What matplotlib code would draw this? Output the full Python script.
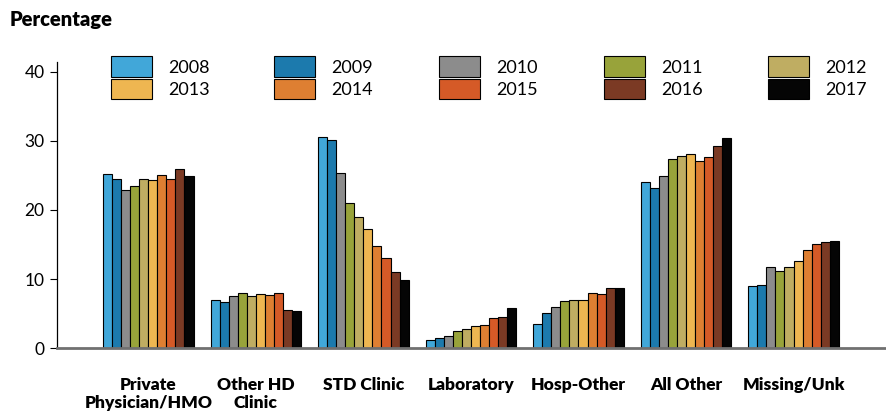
import matplotlib

matplotlib.use("Agg")
import matplotlib.pyplot as plt
import matplotlib.patches as mpatches
import numpy as np

plt.rcParams["font.family"] = ["Lato", "DejaVu Sans"]

categories = ["Private\nPhysician/HMO", "Other HD\nClinic", "STD Clinic", "Laboratory",
              "Hosp-Other", "All Other", "Missing/Unk"]
years = ["2008", "2009", "2010", "2011", "2012", "2013", "2014", "2015", "2016", "2017"]
colors = ["#41a7d9", "#1c7aad", "#8c8c8c", "#98a33a", "#bfad62",
          "#eeb651", "#de7f32", "#d55a27", "#7b3a24", "#050505"]

# percentage by year, one list per year, in category order
v2008 = [25.2, 6.9, 30.5, 1.2, 3.5, 24.0, 9.0]
v2009 = [24.5, 6.7, 30.1, 1.5, 5.1, 23.2, 9.1]
v2010 = [22.9, 7.5, 25.4, 1.8, 6.0, 24.9, 11.7]
v2011 = [23.5, 8.0, 21.0, 2.5, 6.8, 27.4, 11.1]
v2012 = [24.5, 7.5, 18.9, 2.8, 6.9, 27.8, 11.7]
v2013 = [24.3, 7.8, 17.2, 3.2, 6.9, 28.1, 12.6]
v2014 = [25.0, 7.7, 14.8, 3.4, 8.0, 27.1, 14.2]
v2015 = [24.4, 8.0, 13.0, 4.3, 7.8, 27.7, 15.0]
v2016 = [25.9, 5.5, 11.0, 4.5, 8.7, 29.2, 15.3]
v2017 = [24.9, 5.4, 9.8, 5.8, 8.7, 30.4, 15.5]
series = [v2008, v2009, v2010, v2011, v2012, v2013, v2014, v2015, v2016, v2017]

fig = plt.figure(figsize=(8.86, 4.13), dpi=100)
ax = fig.add_axes([0.0643, 0.157, 0.9357, 0.693])

x = np.arange(len(categories))
bw = 0.084
handles = []
for i, (yr, vals) in enumerate(zip(years, series)):
    off = (i - 4.5) * bw
    ax.bar(x + off, vals, width=bw, color=colors[i], edgecolor="black",
           linewidth=0.8, label=yr, zorder=2)
    handles.append(mpatches.Patch(facecolor=colors[i], edgecolor="black", linewidth=0.8, label=yr))

ax.set_xlim(-0.85, 6.86)
ax.set_ylim(0, 41.4)
ax.set_yticks([0, 10, 20, 30, 40])
ax.tick_params(axis="y", labelsize=12.5, direction="out", length=5, width=0.8, pad=4)
ax.set_xticks(x)
ax.set_xticklabels(categories, fontsize=12.5, fontweight="heavy", linespacing=1.1)
ax.tick_params(axis="x", length=0, pad=21)
for s in ["top", "right"]:
    ax.spines[s].set_visible(False)
ax.spines["left"].set_linewidth(0.9)
ax.spines["bottom"].set_color("#707070")
ax.spines["bottom"].set_linewidth(2)

fig.text(0.011, 0.952, "Percentage", fontsize=14.5, fontweight="heavy", ha="left", va="center")

# legend: 5 columns, 2 rows
col_x = [107, 270, 435, 600, 764]
for c in range(5):
    fig.legend(handles=[handles[c], handles[c + 5]], loc="upper left",
               bbox_to_anchor=(col_x[c] / 886 - 0.012, 1 - 42 / 413),
               frameon=False, fontsize=13, handlelength=2.3, handleheight=1.35,
               handletextpad=0.9, labelspacing=0.1, borderpad=0.3)

fig.savefig("out.png", dpi=100)
